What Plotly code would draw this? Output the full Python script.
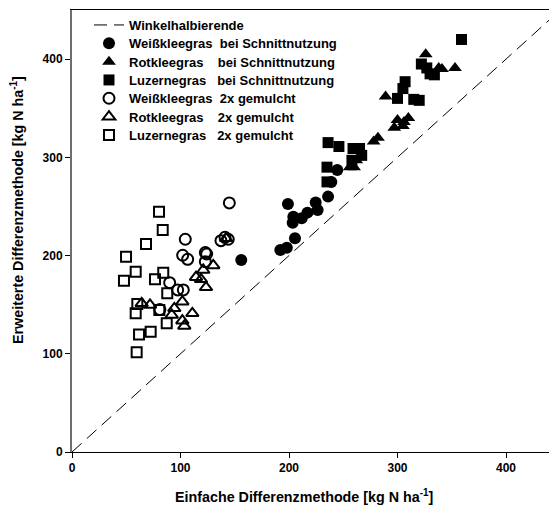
import plotly.graph_objects as go

# Data (kg N/ha): x = Einfache Differenzmethode, y = Erweiterte Differenzmethode
wk_schnitt_x = [156, 192, 198, 205.5, 203.4, 204, 199, 211.7, 217, 224.6, 226.4, 236, 239, 244.5]
wk_schnitt_y = [195.5, 205.7, 208, 217.6, 233.5, 239.6, 252.5, 238, 243.7, 254, 246.4, 260, 275, 287]

rk_schnitt_x = [256, 260, 262, 278, 282, 297, 300, 305, 306, 310, 289, 326, 338, 341, 353]
rk_schnitt_y = [290, 290, 297, 316, 320, 330, 338, 332, 336, 340, 362, 405, 391, 390, 391]

lz_schnitt_x = [235, 235, 236, 246, 258, 259, 265, 267, 300, 305, 307, 315, 320, 322, 327, 330, 334, 359]
lz_schnitt_y = [275, 290, 315, 311, 297, 309, 309, 302, 360, 370, 377, 359, 358, 395, 391, 385, 384, 420]

wk_mulch_x = [81, 90, 97.4, 102.6, 102, 106.6, 104.4, 122.9, 124.1, 122.9, 137.3, 141, 144, 145]
wk_mulch_y = [145, 172.4, 165, 165, 200.3, 196.2, 216.6, 203, 201.6, 193.8, 215.2, 218.6, 216.6, 253.6]

rk_mulch_x = [64.2, 71.9, 91.9, 94.3, 101.7, 101.7, 103.5, 110.9, 114.3, 118.9, 121, 123.5, 130.2, 142]
rk_mulch_y = [151.4, 149.7, 139.5, 146.3, 153, 133.7, 128.3, 141.2, 178, 175.8, 185.3, 167.7, 190, 217.6]

lz_mulch_x = [49.8, 47.9, 58.7, 60.2, 58.7, 61.8, 72.5, 59.6, 68.2, 76.5, 80.2, 83.6, 84.1, 87.8, 80.5, 87.3]
lz_mulch_y = [198.9, 174.4, 183.6, 150.7, 141.2, 119.5, 122.5, 101.5, 211.8, 175.9, 244.7, 226, 182.6, 161.6, 144.6, 131]

diag = [0, 450]
ticks = [0, 100, 200, 300, 400]

NB = "\u00a0"
names = [
    "Winkelhalbierende",
    "Weißkleegras" + NB * 2 + "bei Schnittnutzung",
    "Rotkleegras" + NB * 4 + "bei Schnittnutzung",
    "Luzernegras" + NB * 3 + "bei Schnittnutzung",
    "Weißkleegras" + NB * 2 + "2x gemulcht",
    "Rotkleegras" + NB * 4 + "2x gemulcht",
    "Luzernegras" + NB * 3 + "2x gemulcht",
]

# page body has an 8px margin; figure coordinates = window coordinates - 8
OFF = 8
W, H = 549, 506
l, r, t = 64, 0, 2
ph = 442
b = H - t - ph
pw = W - l - r

def px_to_paper(wx, wy):
    fx, fy = wx - OFF, wy - OFF
    return (fx - l) / pw, 1 - (fy - t) / ph

font = "Liberation Sans, Arial, sans-serif"
legend_ids = ["legend", "legend2", "legend3", "legend4", "legend5", "legend6", "legend7"]
row_y = [25, 43.3, 61.7, 80, 98.3, 116.7, 135]

fig = go.Figure()
fig.add_trace(go.Scatter(x=diag, y=diag, mode="lines", name=names[0], legend=legend_ids[0],
                         line=dict(color="black", width=1, dash="13px,7px")))

def add(xs, ys, name, symbol, filled, size, lg):
    if filled:
        marker = dict(symbol=symbol, size=size, color="black",
                      line=dict(color="black", width=0))
    else:
        marker = dict(symbol=symbol + "-open", size=size - 1, color="black",
                      line=dict(color="black", width=2))
    fig.add_trace(go.Scatter(x=xs, y=ys, mode="markers", name=name, marker=marker, legend=lg))

add(wk_schnitt_x, wk_schnitt_y, names[1], "circle", True, 12, legend_ids[1])
add(rk_schnitt_x, rk_schnitt_y, names[2], "triangle-up", True, 12, legend_ids[2])
add(lz_schnitt_x, lz_schnitt_y, names[3], "square", True, 11, legend_ids[3])
add(wk_mulch_x, wk_mulch_y, names[4], "circle", False, 12, legend_ids[4])
add(rk_mulch_x, rk_mulch_y, names[5], "triangle-up", False, 12, legend_ids[5])
add(lz_mulch_x, lz_mulch_y, names[6], "square", False, 11, legend_ids[6])

ax_x, ax_y = px_to_paper(304, 496)
ay_x, ay_y = px_to_paper(17, 210)

legends = {}
for lid, ry in zip(legend_ids, row_y):
    lx, ly = px_to_paper(89, ry)
    legends[lid] = dict(x=lx, y=ly, xanchor="left", yanchor="middle",
                        bgcolor="rgba(0,0,0,0)", borderwidth=0,
                        font=dict(family=font, size=13, color="black", weight="bold"),
                        itemwidth=30)

fig.update_layout(
    width=W, height=H,
    margin=dict(l=l, r=r, t=t, b=b),
    paper_bgcolor="white", plot_bgcolor="white",
    font=dict(family=font, size=12, color="black"),
    showlegend=True,
    xaxis=dict(range=[0, 447], tickvals=ticks, ticks="outside", ticklen=5,
               tickcolor="black", showgrid=False, zeroline=False,
               showline=True, linecolor="black", linewidth=1, mirror=True,
               tickfont=dict(family=font, size=12, weight="bold")),
    yaxis=dict(range=[0, 450], tickvals=ticks, ticks="outside", ticklen=5,
               tickcolor="black", showgrid=False, zeroline=False,
               showline=True, linecolor="#6e6e6e", linewidth=2,
               tickfont=dict(family=font, size=12, weight="bold")),
    annotations=[
        dict(text="Einfache Differenzmethode [kg N ha<sup>-1</sup>]",
             x=ax_x, xref="paper", y=ax_y, yref="paper", showarrow=False,
             xanchor="center", yanchor="middle",
             font=dict(family=font, size=14.3, weight="bold")),
        dict(text="Erweiterte Differenzmethode [kg N ha<sup>-1</sup>]",
             x=ay_x, xref="paper", y=ay_y, yref="paper", showarrow=False,
             xanchor="center", yanchor="middle", textangle=-90,
             font=dict(family=font, size=14.3, weight="bold")),
    ],
    **legends,
)

fig.write_html("out.html")
